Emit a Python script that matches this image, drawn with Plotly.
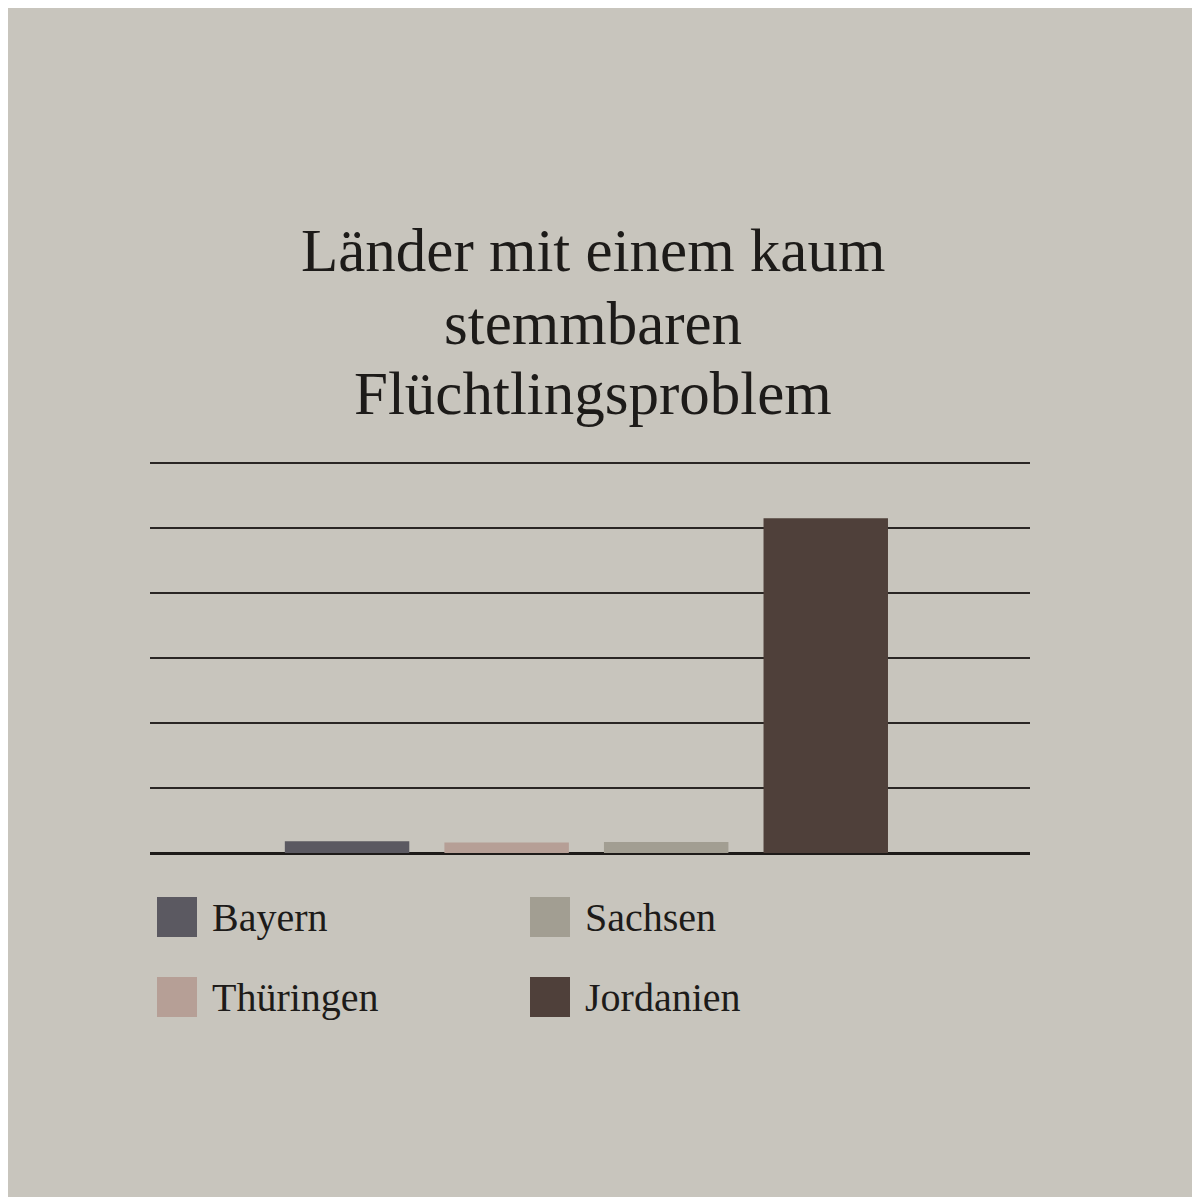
import plotly.graph_objects as go

# ---- data ----
categories = ["Bayern", "Thüringen", "Sachsen", "Jordanien"]
values = [0.18, 0.16, 0.17, 5.15]
colors = ["#5b5961", "#b69f96", "#a29e92", "#4f403a"]
title_lines = ["Länder mit einem kaum", "stemmbaren", "Flüchtlingsproblem"]
legend_order = ["Bayern", "Sachsen", "Thüringen", "Jordanien"]  # row-major, 2 columns

W, H = 1200, 1197
OFF = 8  # page body margin
Y_TOP = 6.03
base_px = 853 - OFF
top_px = 463 - OFF
PH = round((base_px - top_px) * Y_TOP / 6)
T = base_px - PH
B = H - base_px
L = 150 - OFF
R = W - (1030 - OFF)
PW = W - L - R

def px_x(p):
    return (p - OFF - L) / PW

def px_y(p):
    return (base_px - (p - OFF)) / PH

FONT = "Liberation Serif, Times New Roman, serif"
INK = "#1d1b19"
BG = "#c8c5bd"

fig = go.Figure()
for i, (c, v, col) in enumerate(zip(categories, values, colors)):
    fig.add_trace(go.Bar(x=[i], y=[v], name=c, marker=dict(color=col, line=dict(width=0)),
                         width=0.78, showlegend=False))

fig.update_layout(
    width=W, height=H,
    margin=dict(l=L, r=R, t=T, b=B, pad=0),
    paper_bgcolor=BG, plot_bgcolor=BG,
    xaxis=dict(range=[-1.235, 4.28], showgrid=False, zeroline=False, showticklabels=False,
               ticks="", showline=False, fixedrange=True),
    yaxis=dict(range=[0, Y_TOP], dtick=1, tick0=0, showgrid=True, gridcolor="#2a2624", gridwidth=2,
               zeroline=True, zerolinecolor="#1e1b19", zerolinewidth=2.5,
               showticklabels=False, ticks="", showline=False, fixedrange=True),
    barmode="overlay",
    font=dict(family=FONT, color=INK),
)

# title, one annotation per line for tighter leading
title_tops = [215, 288, 358]
for line, top in zip(title_lines, title_tops):
    fig.add_annotation(
        text=line, xref="paper", yref="paper",
        x=px_x(593), y=px_y(top), xanchor="center", yanchor="top",
        showarrow=False, align="center",
        font=dict(family=FONT, size=61, color=INK),
    )

# manual legend (2 columns, row-major)
col_x = [157, 530]
row_y = [897, 977]
sw = 40
cmap = dict(zip(categories, colors))
for k, name in enumerate(legend_order):
    r, c = divmod(k, 2)
    x0 = col_x[c]
    y0 = row_y[r]
    fig.add_shape(type="rect", xref="paper", yref="paper",
                  x0=px_x(x0), x1=px_x(x0 + sw), y0=px_y(y0 + sw), y1=px_y(y0),
                  fillcolor=cmap[name], line=dict(width=0), layer="above")
    fig.add_annotation(text=name, xref="paper", yref="paper",
                       x=px_x(x0 + sw + 13), y=px_y(y0 + sw / 2),
                       xanchor="left", yanchor="middle", showarrow=False,
                       font=dict(family=FONT, size=40, color=INK))

fig.write_html("out.html")
